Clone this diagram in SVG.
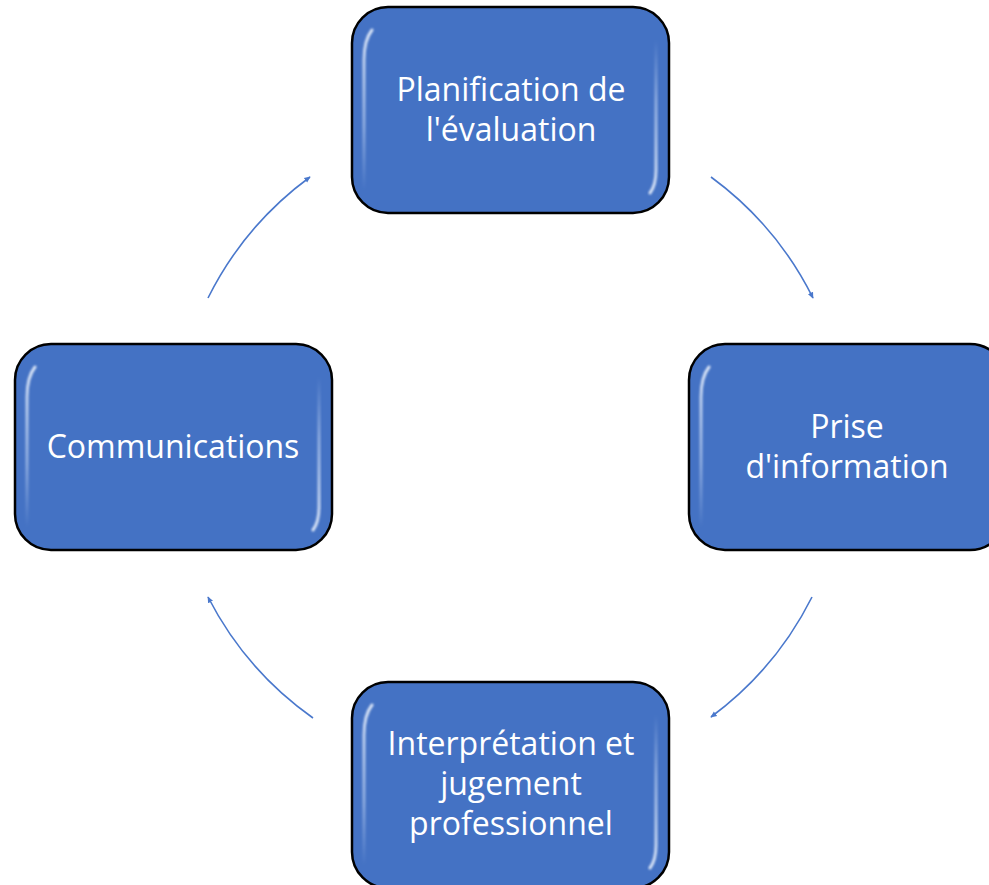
<svg xmlns="http://www.w3.org/2000/svg" width="989" height="885" viewBox="0 0 989 885">
<style>
.box{fill:#4472C4;stroke:#000;stroke-width:2.5}
.hl{fill:none;stroke:url(#hg);stroke-width:3;stroke-linecap:round;filter:url(#bl)}
.hr{fill:none;stroke:url(#hg2);stroke-width:3;stroke-linecap:round;filter:url(#bl)}
.lbl{font-family:"Open Sans","Liberation Sans",sans-serif;font-size:32px;fill:#fff;text-anchor:middle}
.arc{fill:none;stroke:#4A78CC;stroke-width:1.6;marker-end:url(#ah)}
</style>
<defs>
<marker id="ah" viewBox="0 0 10 10" refX="8" refY="5" markerWidth="7" markerHeight="7" orient="auto" markerUnits="userSpaceOnUse">
<path d="M0,1 L9,5 L0,9 z" fill="#4A78CC"/>
</marker>
<linearGradient id="hg" x1="0" y1="0" x2="0" y2="1">
<stop offset="0" stop-color="#E3ECFA" stop-opacity="0.95"/>
<stop offset="0.6" stop-color="#C9DAF5" stop-opacity="0.55"/>
<stop offset="1" stop-color="#C9DAF5" stop-opacity="0"/>
</linearGradient>
<linearGradient id="hg2" x1="0" y1="0" x2="0" y2="1">
<stop offset="0" stop-color="#C9DAF5" stop-opacity="0"/>
<stop offset="0.4" stop-color="#C9DAF5" stop-opacity="0.55"/>
<stop offset="1" stop-color="#E3ECFA" stop-opacity="0.95"/>
</linearGradient>
<filter id="bl" x="-50%" y="-10%" width="200%" height="120%"><feGaussianBlur stdDeviation="0.8"/></filter>
</defs>
<rect width="989" height="885" fill="#fff"/>
<g id="connectors">
<path class="arc" d="M711,177 A336,336 0 0 1 813,298"/>
<path class="arc" d="M812,597 A336,336 0 0 1 711,717"/>
<path class="arc" d="M313,718 A336,336 0 0 1 208,597"/>
<path class="arc" d="M208,298 A336,336 0 0 1 310,177"/>
</g>
<g id="node-planification">
<rect class="box" x="352" y="7" width="317" height="206" rx="36"/>
<path class="hl" d="M372,30 Q364,40 364,60 L364,190"/>
<path class="hr" d="M656,40 L656,170 Q656,185 650,193"/>
<text class="lbl" x="511" y="101">Planification de</text>
<text class="lbl" x="511" y="141">l'évaluation</text>
</g>
<g id="node-prise">
<rect class="box" x="689" y="344" width="317" height="206" rx="36"/>
<path class="hl" d="M709,367 Q701,377 701,397 L701,527"/>
<text class="lbl" x="847" y="438">Prise</text>
<text class="lbl" x="847" y="478">d'information</text>
</g>
<g id="node-communications">
<rect class="box" x="15" y="344" width="317" height="206" rx="36"/>
<path class="hl" d="M35,367 Q27,377 27,397 L27,527"/>
<path class="hr" d="M319,377 L319,507 Q319,522 313,530"/>
<text class="lbl" x="173" y="458">Communications</text>
</g>
<g id="node-interpretation">
<rect class="box" x="352" y="682" width="317" height="206" rx="36"/>
<path class="hl" d="M372,705 Q364,715 364,735 L364,865"/>
<path class="hr" d="M656,715 L656,845 Q656,860 650,868"/>
<text class="lbl" x="511" y="755">Interprétation et</text>
<text class="lbl" x="511" y="795">jugement</text>
<text class="lbl" x="511" y="835">professionnel</text>
</g>
</svg>
